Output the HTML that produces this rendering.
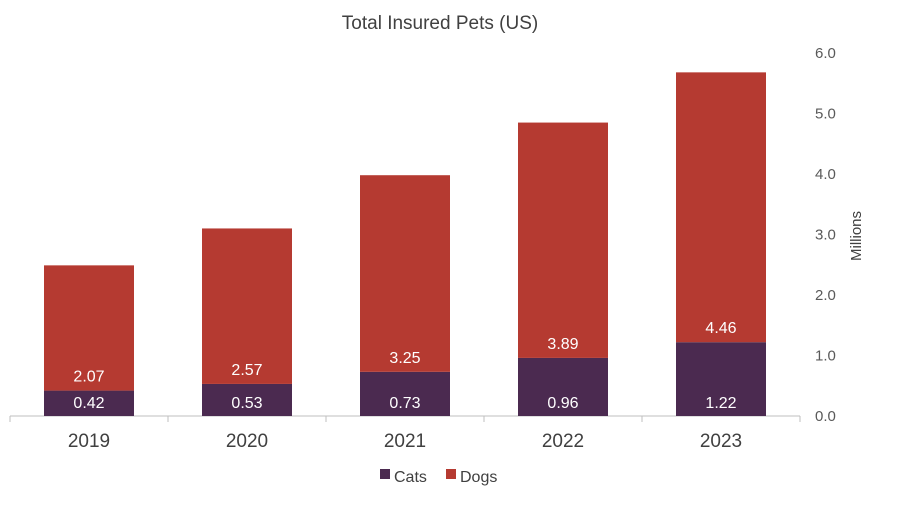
<!DOCTYPE html>
<html><head><meta charset="utf-8"><style>
body{margin:0;background:#fff;font-family:"Liberation Sans",sans-serif;}
svg text{font-family:"Liberation Sans",sans-serif;}
</style></head><body>
<svg id="chart" width="900" height="510">
<text x="440" y="29" text-anchor="middle" font-size="19" fill="#404040">Total Insured Pets (US)</text>
<g id="axis"></g><g id="bars"></g>
<text transform="translate(861,236) rotate(-90)" text-anchor="middle" font-size="15" fill="#404040">Millions</text>
<g>
<rect x="380" y="469" width="10" height="10" fill="#4b2a50"/>
<text x="394" y="482" font-size="16" fill="#404040">Cats</text>
<rect x="446" y="469" width="10" height="10" fill="#b53a31"/>
<text x="460" y="482" font-size="16" fill="#404040">Dogs</text>
</g>
</svg>
<script>
const categories=["2019","2020","2021","2022","2023"];
const cats=[0.42,0.53,0.73,0.96,1.22];
const dogs=[2.07,2.57,3.25,3.89,4.46];
const ticks=[0,1,2,3,4,5,6];
const NS="http://www.w3.org/2000/svg";
const x0=10,x1=800,y0=416,yTop=53,maxV=6;
const bw=(x1-x0)/categories.length;
const y=v=>y0-(v/maxV)*(y0-yTop);
const xc=i=>x0+bw*(i+0.5);
function mk(t,a,p){const e=document.createElementNS(NS,t);for(const k in a)e.setAttribute(k,a[k]);p.appendChild(e);return e;}
const ax=document.getElementById('axis'),bars=document.getElementById('bars');
const base=mk('line',{x1:x0,x2:x1,y1:y0,y2:y0,stroke:'#bfbfbf'},ax);


for(let i=0;i<=categories.length;i++){const t=mk('line',{x1:x0+bw*i,x2:x0+bw*i,y1:y0,y2:y0+6,stroke:'#bfbfbf'},ax);

}
ticks.forEach(v=>{const t=mk('text',{x:815,y:y(v)+5,'font-size':15,fill:'#595959'},ax);t.textContent=v.toFixed(1);

});
categories.forEach((c,i)=>{
 const bx=xc(i)-45;
 const r1=mk('rect',{x:bx,y:y(cats[i]),width:90,height:y0-y(cats[i]),fill:'#4b2a50'},bars);
 
 
 const r2=mk('rect',{x:bx,y:y(cats[i]+dogs[i]),width:90,height:y(cats[i])-y(cats[i]+dogs[i]),fill:'#b53a31'},bars);
 
 
 const l1=mk('text',{x:xc(i),y:y0-8,'text-anchor':'middle','font-size':16,fill:'#fff'},bars);l1.textContent=cats[i].toFixed(2);
 
 
 const l2=mk('text',{x:xc(i),y:y(cats[i])-9,'text-anchor':'middle','font-size':16,fill:'#fff'},bars);l2.textContent=dogs[i].toFixed(2);
 
 
 const cl=mk('text',{x:xc(i),y:447,'text-anchor':'middle','font-size':19,fill:'#404040'},ax);cl.textContent=c;
 
 
});
</script>
</body></html>
